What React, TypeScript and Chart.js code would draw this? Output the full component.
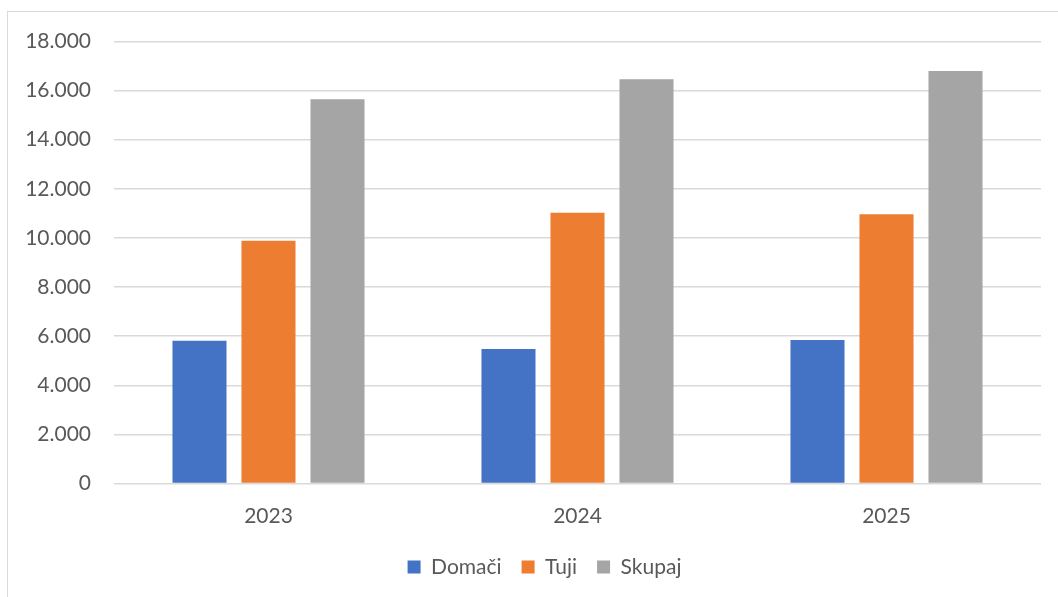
import React, { useEffect, useRef } from "react";
import { Chart, registerables } from "chart.js";

Chart.register(...registerables);

const categories = ["2023", "2024", "2025"];
const domaci = [5810, 5480, 5840];
const tuji = [9890, 11030, 10970];
const skupaj = [15650, 16460, 16800];
const seriesNames = ["Domači", "Tuji", "Skupaj"];
const yTicks = [0, 2000, 4000, 6000, 8000, 10000, 12000, 14000, 16000, 18000];

const fmt = (v: number) => String(v).replace(/\B(?=(\d{3})+(?!\d))/g, ".");

const shiftLegend = {
  id: "shiftLegend",
  afterLayout(chart: any) {
    if (chart.legend) {
      chart.legend.left = 48;
    }
  },
};

export default function App() {
  const ref = useRef<HTMLCanvasElement | null>(null);
  useEffect(() => {
    if (!ref.current) return;
    const font = { family: "Lato, 'Open Sans', sans-serif", size: 21 };
    const chart = new Chart(ref.current, {
      type: "bar",
      data: {
        labels: categories,
        datasets: [
          { label: seriesNames[0], data: domaci, backgroundColor: "#4472C4" },
          { label: seriesNames[1], data: tuji, backgroundColor: "#ED7D31" },
          { label: seriesNames[2], data: skupaj, backgroundColor: "#A5A5A5" },
        ],
      },
      plugins: [shiftLegend],
      options: {
        animation: false,
        responsive: false,
        maintainAspectRatio: false,
        layout: { padding: { top: 41.5, right: 17, bottom: 9.5, left: 0 } },
        datasets: {
          bar: { categoryPercentage: 0.67, barPercentage: 0.783 },
        },
        plugins: {
          legend: {
            position: "bottom",
            labels: {
              boxWidth: 13,
              boxHeight: 13,
              padding: 20,
              color: "#595959",
              font,
            },
          },
          tooltip: { enabled: false },
        },
        scales: {
          x: {
            grid: { display: false, drawTicks: false },
            border: { display: false },
            ticks: { color: "#595959", font, padding: 20 },
            afterFit: (s: any) => {
              s.height = 53;
            },
          },
          y: {
            min: 0,
            max: 18000,
            afterBuildTicks: (s: any) => {
              s.ticks = yTicks.map((v) => ({ value: v }));
            },
            grid: { color: "#d9d9d9", lineWidth: 1.5, drawTicks: false },
            border: { display: false },
            ticks: {
              color: "#595959",
              font,
              padding: 23,
              callback: (v: any) => fmt(Number(v)),
            },
            afterFit: (s: any) => {
              s.width = 114;
            },
          },
        },
      },
    } as any);
    return () => chart.destroy();
  }, []);
  return (
    <div style={{ position: "fixed", left: 0, top: 0, width: 1058, height: 597, overflow: "hidden", background: "#fff" }}>
      <div
        style={{
          position: "absolute",
          left: 7,
          top: 11,
          width: 1100,
          height: 700,
          borderLeft: "1.5px solid #d9d9d9",
          borderTop: "1.5px solid #d9d9d9",
        }}
      />
      <canvas ref={ref} width={1058} height={597} style={{ position: "absolute", left: 0, top: 0 }} />
    </div>
  );
}
